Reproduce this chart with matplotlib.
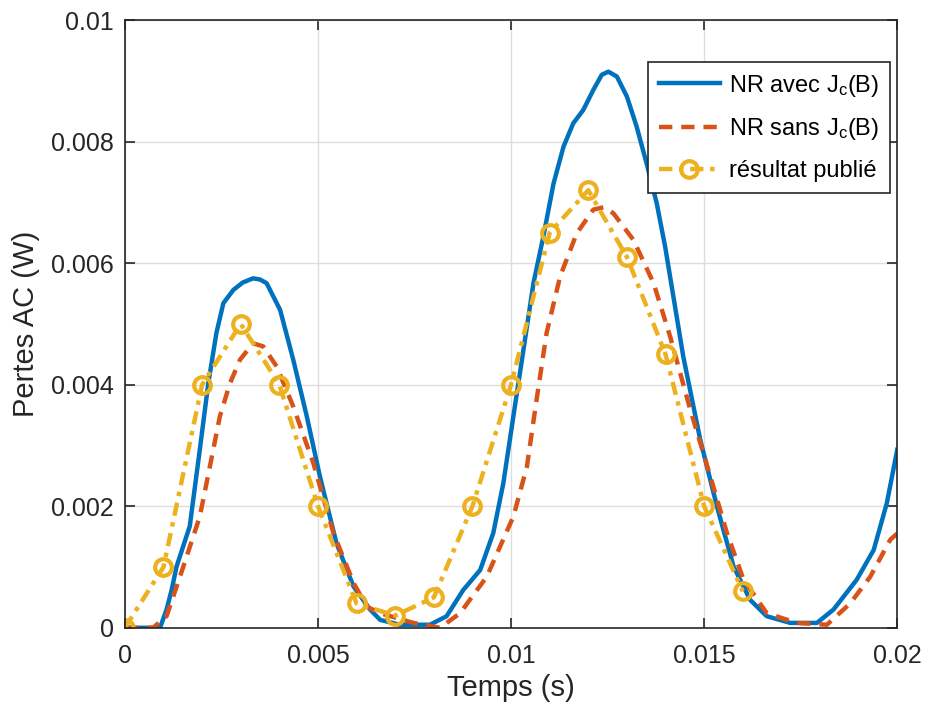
import numpy as np
from matplotlib import pyplot as plt

plt.rcParams['font.family'] = ['Liberation Sans', 'DejaVu Sans']
plt.rcParams['mathtext.fontset'] = 'custom'
plt.rcParams['mathtext.rm'] = 'Liberation Sans'
plt.rcParams['mathtext.it'] = 'Liberation Sans'

# NR avec Jc(B): time (ms) / losses (mW)
t_avec = [0, 0.5, 0.91, 1.08, 1.21, 1.34, 1.68, 1.94, 2.16, 2.37, 2.55, 2.81, 3.05, 3.32, 3.5, 3.67,
          4.02, 4.36, 4.71, 5.05, 5.48, 5.92, 6.35, 6.61, 7.12, 7.9, 8.33, 8.76, 9.2,
          9.54, 9.8, 10.06, 10.32, 10.58, 10.84, 11.1, 11.36, 11.61, 11.87, 12.13, 12.35,
          12.52, 12.74, 13.0, 13.25, 13.51, 13.77, 13.99, 14.46, 14.9, 15.33, 15.76,
          16.19, 16.62, 17.23, 17.92, 18.35, 18.95, 19.39, 19.73, 20.0]
p_avec = [0, 0, 0.0, 0.3, 0.62, 1.01, 1.67, 2.93, 4.02, 4.85, 5.34, 5.56, 5.68, 5.75, 5.73, 5.67,
          5.23, 4.41, 3.48, 2.49, 1.39, 0.68, 0.30, 0.13, 0.05, 0.05, 0.19, 0.62, 0.95,
          1.56, 2.38, 3.48, 4.57, 5.67, 6.45, 7.31, 7.92, 8.30, 8.52, 8.85, 9.10,
          9.15, 9.07, 8.74, 8.25, 7.64, 6.99, 6.27, 4.46, 3.09, 2.0, 1.01,
          0.46, 0.19, 0.08, 0.08, 0.30, 0.79, 1.28, 2.05, 2.93]

# NR sans Jc(B)
t_sans = [0, 0.73, 1.08, 1.51, 1.94, 2.2, 2.46, 2.72, 2.98, 3.32, 3.58, 3.93, 4.36, 4.88,
          5.4, 5.92, 6.26, 6.61, 7.47, 8.16, 8.68, 9.37, 10.06, 10.41, 10.66, 10.92, 11.27,
          11.7, 12.13, 12.4, 12.65, 13.17, 13.69, 14.12, 14.64, 15.16, 15.59, 16.02, 16.62,
          17.4, 18.18, 18.78, 19.3, 19.82, 20.0]
p_sans = [0, 0, 0.19, 1.0, 1.83, 2.65, 3.48, 4.02, 4.41, 4.68, 4.63, 4.30, 3.64, 2.71,
          1.56, 0.74, 0.35, 0.24, 0.08, 0, 0.24, 0.84, 1.83, 2.65, 3.75, 4.85, 5.78,
          6.49, 6.88, 6.92, 6.82, 6.38, 5.67, 4.79, 3.59, 2.49, 1.56, 0.79, 0.24,
          0.08, 0.05, 0.40, 0.84, 1.45, 1.55]

# résultat publié
t_pub = [0, 1, 2, 3, 4, 5, 6, 7, 8, 9, 10, 11, 12, 13, 14, 15, 16]
p_pub = [0, 1.0, 4.0, 5.0, 4.0, 2.0, 0.4, 0.2, 0.5, 2.0, 4.0, 6.5, 7.2, 6.1, 4.5, 2.0, 0.6]

x_ticks = [0, 0.005, 0.01, 0.015, 0.02]
x_labels = ['0', '0.005', '0.01', '0.015', '0.02']
y_ticks = [0, 0.002, 0.004, 0.006, 0.008, 0.01]
y_labels = ['0', '0.002', '0.004', '0.006', '0.008', '0.01']

fig = plt.figure(figsize=(9.25, 7.15), dpi=100)
ax = fig.add_axes([0.135, 0.122, 0.835, 0.850])

ax.plot(np.array(t_avec) * 1e-3, np.array(p_avec) * 1e-3, color='#0072BD', lw=3.2,
        label='NR avec J$_\\mathrm{c}$(B)')
ax.plot(np.array(t_sans) * 1e-3, np.array(p_sans) * 1e-3, color='#D95319', lw=3.2,
        linestyle=(0, (3, 2)), label='NR sans J$_\\mathrm{c}$(B)')
ax.plot(np.array(t_pub) * 1e-3, np.array(p_pub) * 1e-3, color='#EDB120', lw=3.2,
        linestyle=(0, (3, 1.5, 1, 1.5)), marker='o', ms=12, mew=3, mfc='none',
        label='résultat publié')

ax.set_xlim(0, 0.02)
ax.set_ylim(0, 0.01)
ax.set_xticks(x_ticks)
ax.set_xticklabels(x_labels)
ax.set_yticks(y_ticks)
ax.set_yticklabels(y_labels)
ax.tick_params(direction='in', length=7, width=1.2, labelsize=18, colors='#262626',
               top=True, right=True)
ax.tick_params(axis='x', pad=12)
ax.tick_params(axis='y', pad=8)
ax.grid(True, color='#dedede', lw=1)
ax.set_axisbelow(True)
for s in ax.spines.values():
    s.set_color('#262626')
    s.set_linewidth(1.2)

ax.set_xlabel('Temps (s)', fontsize=21, color='#262626', labelpad=4)
ax.set_ylabel('Pertes AC (W)', fontsize=21, color='#262626', labelpad=8)

leg = ax.legend(loc='upper right', bbox_to_anchor=(0.991, 0.931), fontsize=17,
                handlelength=2.6, fancybox=False, edgecolor='#262626', framealpha=1,
                borderpad=0.45, labelspacing=0.75, handletextpad=0.4, borderaxespad=0)
leg.get_frame().set_linewidth(1.2)

fig.savefig('out.png', dpi=100)
